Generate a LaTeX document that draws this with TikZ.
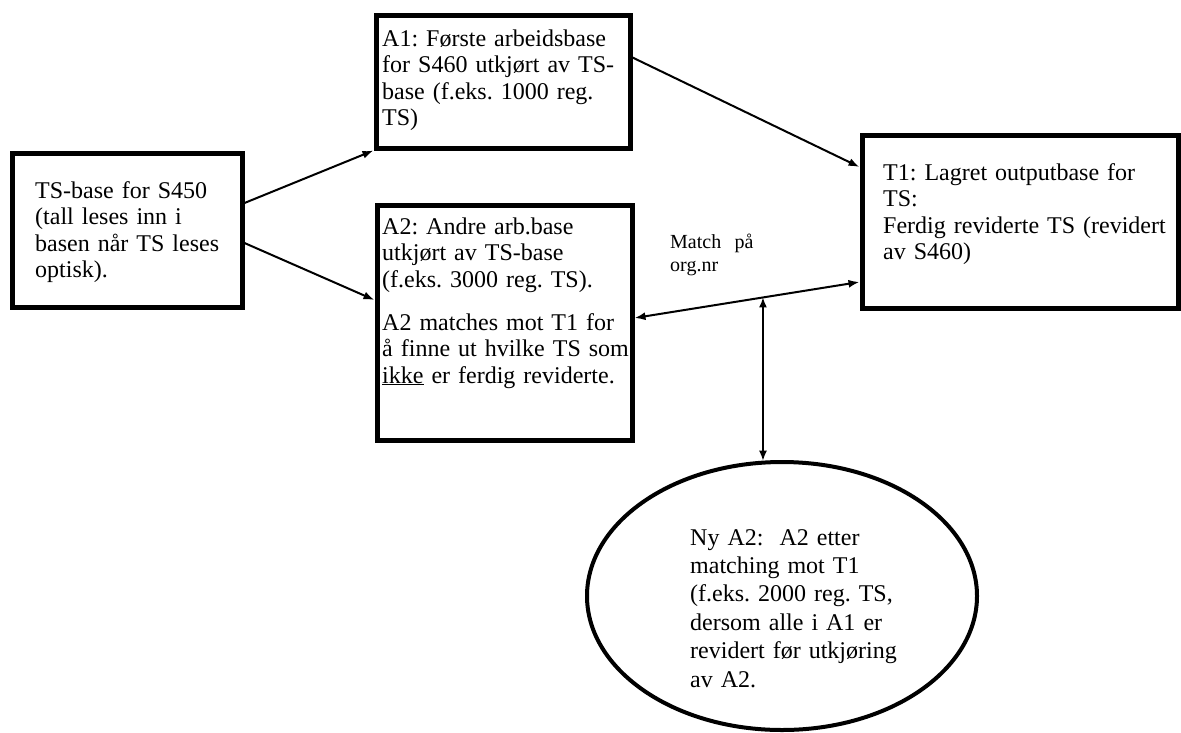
\documentclass[tikz,border=0pt]{standalone}
\usepackage{fontspec}
\setmainfont{Liberation Serif}
\frenchspacing
\usetikzlibrary{arrows.meta,shapes.geometric,calc}
\begin{document}
\begin{tikzpicture}[x=1pt,y=-1pt,
  box/.style={draw,line width=5pt,rectangle,inner sep=0pt},
  oval/.style={draw,line width=4pt,ellipse,inner sep=0pt},
  txt/.style={inner sep=0pt,anchor=base west,align=left,text width=340pt,font=\fontsize{24}{26.5}\selectfont},
  etxt/.style={txt,font=\fontsize{24}{28.4}\selectfont},
  small/.style={txt,font=\fontsize{20}{23}\selectfont},
  conn/.style={line width=2pt,-{Latex[length=11pt,width=8pt]}},
  dconn/.style={line width=2pt,{Latex[length=11pt,width=8pt]}-{Latex[length=11pt,width=8pt]}},
  vconn/.style={line width=1.6pt,{Latex[length=10pt,width=8pt]}-{Latex[length=10pt,width=8pt]}},
]
\useasboundingbox (0,0) rectangle (1181,732);
\fill[white] (0,0) rectangle (1181,732);

% boxes
\node[box,minimum width=230pt,minimum height=154pt] (left) at (127,230) {};
\node[box,minimum width=254pt,minimum height=133pt] (a1) at (503,81.5) {};
\node[box,minimum width=255pt,minimum height=235pt] (a2) at (504.5,322.5) {};
\node[box,minimum width=316pt,minimum height=173pt] (t1) at (1020,221.5) {};
\node[oval,minimum width=390pt,minimum height=268pt] (ny) at (782,596) {};

% texts
\node[txt] (tleft) at (35,198) {TS-base for S450\\(tall leses inn i\\basen når TS leses\\optisk).};
\node[txt] (ta1) at (382,46) {A1: Første arbeidsbase\\for S460 utkjørt av TS-\\base (f.eks. 1000 reg.\\TS)};
\node[txt] (ta2) at (382,234) {A2: Andre arb.base\\utkjørt av TS-base\\(f.eks. 3000 reg. TS).\\[16.5pt]A2 matches mot T1 for\\å finne ut hvilke TS som\\\underline{ikke} er ferdig reviderte.};
\node[txt] (tt1) at (883,180) {T1: Lagret outputbase for\\TS:\\Ferdig reviderte TS (revidert\\av S460)};
\node[etxt] (tny) at (690,545) {Ny A2:\ \ A2 etter\\matching mot T1\\(f.eks. 2000 reg. TS,\\dersom alle i A1 er\\revidert før utkjøring\\av A2.};
\node[small] (match) at (670,248) {Match\ \ på\\org.nr};

% connectors
\draw[conn] ($(left.east)+(0,-27)$) -- (a1.south west);
\draw[conn] ($(left.east)+(0,13)$) -- ($(a2.west)+(0,-22.5)$);
\draw[conn] ($(a1.east)+(0,-24)$) -- ($(t1.west)+(0,-54.5)$);
\draw[dconn] ($(a2.east)+(0,-4.5)$) -- coordinate[pos=0.571] (m) ($(t1.west)+(0,60.5)$);
\draw[vconn] (m) -- (ny.98);
\end{tikzpicture}
\end{document}
